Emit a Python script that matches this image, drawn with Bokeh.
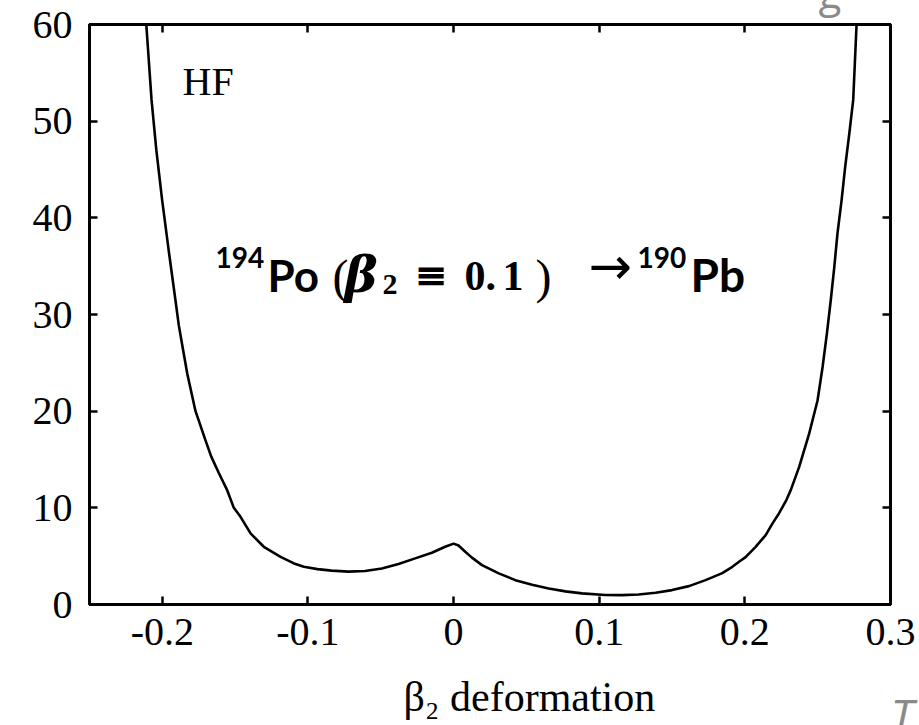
from bokeh.plotting import figure
from bokeh.models import Range1d, LinearAxis, FixedTicker, Label
from bokeh.embed import file_html
from bokeh.resources import INLINE

# HF energy curve vs quadrupole deformation
beta2 = [-0.2119, -0.2110, -0.2074, -0.2041, -0.2001, -0.1956, -0.1910, -0.1887,
         -0.1857, -0.1829, -0.1772, -0.1704, -0.1664, -0.1612, -0.1554, -0.1509,
         -0.1463, -0.1394, -0.1303, -0.1188, -0.1096, -0.1028, -0.0935, -0.0837,
         -0.0722, -0.0608, -0.0493, -0.0378, -0.0264, -0.0149, -0.0058, 0.0000,
         0.0034, 0.0080, 0.0126, 0.0195, 0.0310, 0.0424, 0.0539, 0.0653,
         0.0768, 0.0882, 0.1040, 0.1157, 0.1270, 0.1387, 0.1500, 0.1616,
         0.1730, 0.1845, 0.1914, 0.1960, 0.2005, 0.2074, 0.2143, 0.2190,
         0.2234, 0.2285, 0.2315, 0.2373, 0.2442, 0.2499, 0.2534, 0.2563,
         0.2590, 0.2614, 0.2636, 0.2664, 0.2689, 0.2717, 0.2744, 0.2767,
         0.2777]
energy = [62.0, 60.0, 52.2, 47.0, 41.8, 36.6, 31.5, 28.9,
          26.3, 23.9, 20.0, 17.0, 15.3, 13.6, 11.8, 10.0,
          9.07, 7.35, 5.97, 4.93, 4.25, 3.90, 3.66, 3.50,
          3.40, 3.47, 3.73, 4.20, 4.77, 5.35, 5.97, 6.30,
          6.10, 5.45, 4.85, 4.07, 3.22, 2.52, 2.05, 1.66,
          1.36, 1.15, 0.98, 0.97, 1.04, 1.21, 1.49, 1.90,
          2.52, 3.25, 3.90, 4.42, 4.90, 5.97, 7.18, 8.39,
          9.42, 10.8, 11.83, 14.24, 17.7, 21.1, 24.6, 28.0,
          31.5, 34.9, 38.4, 41.8, 45.3, 48.7, 52.2, 60.0,
          62.0]

x_ticks = [-0.2, -0.1, 0.0, 0.1, 0.2, 0.3]
x_tick_labels = ["-0.2", "-0.1", "0", "0.1", "0.2", "0.3"]
y_ticks = [0, 10, 20, 30, 40, 50, 60]
y_tick_labels = ["0", "10", "20", "30", "40", "50", "60"]

SERIF = "Liberation Serif"
SANS = "Lato"

FL, FR, FT, FB = 89, 890, 24, 604  # frame edges on the page

p = figure(width=919, height=725, output_backend="svg", toolbar_location=None,
           x_range=Range1d(-0.25, 0.30), y_range=Range1d(0, 60),
           min_border_left=FL, min_border_right=919 - FR,
           min_border_top=FT, min_border_bottom=725 - FB,
           background_fill_color="white", border_fill_color="white")
p.grid.visible = False
p.outline_line_color = "black"
p.outline_line_width = 3
p.outline_line_alpha = 1.0

p.line(beta2, energy, line_color="black", line_width=2.6)


def style_axis(ax, ticks, labels=None):
    ax.ticker = FixedTicker(ticks=ticks)
    ax.major_tick_in = 8
    ax.major_tick_out = 0
    ax.major_tick_line_width = 2.5
    ax.major_tick_line_color = "black"
    ax.minor_tick_line_color = None
    ax.axis_line_width = 3
    ax.axis_line_color = "black"
    if labels is None:
        ax.major_label_text_font_size = "0px"
        ax.major_label_standoff = 0
    else:
        ax.major_label_overrides = {t: s for t, s in zip(ticks, labels)}
        ax.major_label_text_font = SERIF
        ax.major_label_text_font_size = "40px"
        ax.major_label_text_color = "black"


xa = p.xaxis[0]
style_axis(xa, x_ticks, x_tick_labels)
xa.major_label_standoff = 14

style_axis(p.yaxis[0], y_ticks, y_tick_labels)
p.yaxis[0].major_label_standoff = 17

top_axis = LinearAxis()
style_axis(top_axis, x_ticks[:-1])
p.add_layout(top_axis, "above")
right_axis = LinearAxis()
style_axis(right_axis, y_ticks[1:-1])
p.add_layout(right_axis, "right")


def put(text, px, py, size, font=SERIF, style="normal", color="black",
        align="left", baseline="alphabetic"):
    p.add_layout(Label(x=px - FL, y=FB - py, x_units="screen", y_units="screen",
                       text=text, text_font=font, text_font_size=f"{size}px",
                       text_font_style=style, text_color=color,
                       text_align=align, text_baseline=baseline))


# method tag
put("HF", 182, 81, 40)

# reaction annotation
put("194", 215, 257, 28, font=SANS, style="bold")
put("Po", 267, 274, 44, font=SANS, style="bold")
put("(", 332, 276, 48)
put("β", 344, 274, 50, font="DejaVu Serif", style="bold italic")
put("2", 382, 284, 30, style="bold")
put("≡", 414, 274, 40, font="DejaVu Serif", style="bold")
put("0.", 464, 275, 42, style="bold")
put("1", 502, 275, 42, style="bold")
put(")", 535, 276, 48)
put("→", 588, 265, 52, font="DejaVu Sans")
put("190", 637, 257, 28, font=SANS, style="bold")
put("Pb", 690, 274, 46, font=SANS, style="bold")

# x axis title, kept in the panel below the axis
p.add_layout(Label(x=403 - FL, y=-3, x_units="screen", y_units="screen",
                   text="β₂ deformation", text_font=SERIF,
                   text_font_size="42px", text_color="black",
                   text_align="left", text_baseline="alphabetic"), "below")

# stray page letters at the edges
p.add_layout(Label(x=0, y=-110, x_units="screen", y_units="screen",
                   text="T", text_font="Open Sans", text_font_size="46px",
                   text_font_style="italic", text_color="#8a8a8a",
                   text_align="left", text_baseline="alphabetic"), "right")
p.add_layout(Label(x=812, y=613, x_units="screen", y_units="screen",
                   text="g", text_font="Open Sans", text_font_size="42px",
                   text_color="#8a8a8a",
                   text_align="left", text_baseline="alphabetic"), "left")

open("out.html", "w").write(file_html(p, INLINE))
